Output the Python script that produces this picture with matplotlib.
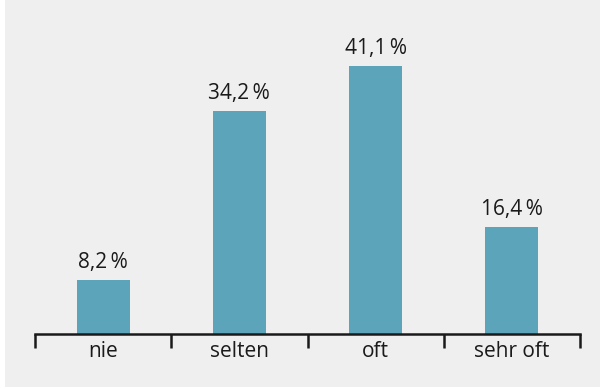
import matplotlib.pyplot as plt
from matplotlib.patches import Rectangle

categories = ["nie", "selten", "oft", "sehr oft"]
values = [8.2, 34.2, 41.1, 16.4]
labels = ["8,2\u2009%", "34,2\u2009%", "41,1\u2009%", "16,4\u2009%"]

bar_color = "#5ba4ba"
bg = "#efefef"

fig = plt.figure(figsize=(6, 3.89), dpi=100, facecolor="white")
fig.patches.append(Rectangle((5 / 600, 2 / 389), 1, 1, transform=fig.transFigure,
                             facecolor=bg, edgecolor="none", zorder=-1))

# axes in pixel terms: x 35..580, baseline at y=334 from top
ax = fig.add_axes([35 / 600, (389 - 334) / 389, 545 / 600, (334 - 20) / 389])
ax.set_facecolor("none")

x = range(len(categories))
ax.bar(x, values, width=0.39, color=bar_color)
for xi, v, lab in zip(x, values, labels):
    ax.text(xi, v + 1.1, lab, ha="center", va="bottom", fontsize=15,
            family="Open Sans", color="#1a1a1a")

ax.set_xlim(-0.5, len(categories) - 0.5)
ax.set_ylim(0, 48.1)

for s in ["top", "right", "left"]:
    ax.spines[s].set_visible(False)
ax.spines["bottom"].set_linewidth(1.8)
ax.spines["bottom"].set_color("#1a1a1a")
ax.set_yticks([])

# boundary ticks between categories
ax.set_xticks([i - 0.5 for i in range(len(categories) + 1)])
ax.set_xticklabels([])
ax.tick_params(axis="x", length=10, width=1.8, color="#1a1a1a")
ax.set_xticks(list(x), minor=True)
ax.set_xticklabels(categories, minor=True, fontsize=15, family="Open Sans", color="#1a1a1a")
ax.tick_params(axis="x", which="minor", length=0, pad=5)

fig.savefig("out.png", dpi=100, facecolor="white")
